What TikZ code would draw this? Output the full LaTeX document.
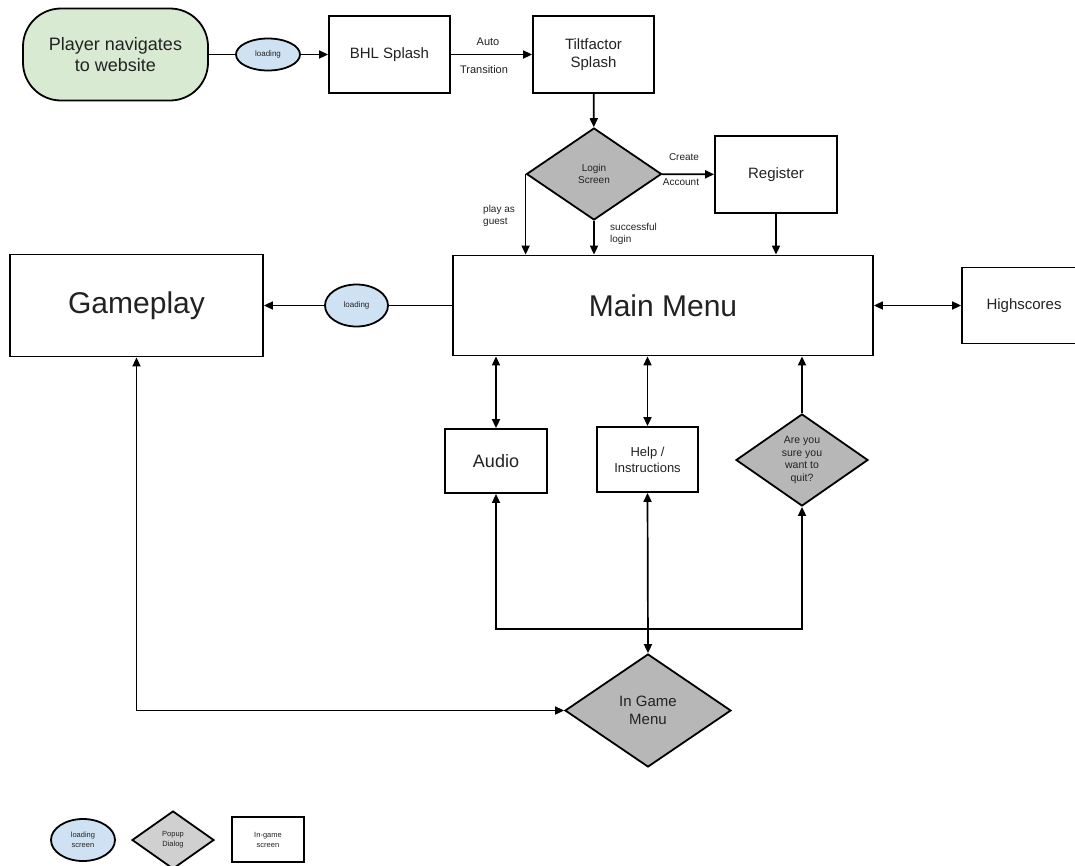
\documentclass[tikz,border=0pt]{standalone}
\usepackage{fontspec}
\setmainfont{Liberation Sans}
\usetikzlibrary{shapes.geometric,arrows.meta}
\definecolor{txt}{HTML}{222222}
\definecolor{greenfill}{HTML}{D9EAD3}
\definecolor{bluefill}{HTML}{CFE2F3}
\definecolor{grayfill}{HTML}{B7B7B7}
\definecolor{lightgray}{HTML}{D0D0D0}
\newcommand{\fs}[2]{\fontsize{#1}{#2}\selectfont}
\tikzset{
  base/.style={draw=black, line width=1.8pt, text=txt, align=center, inner sep=0pt},
  screen/.style={base, rectangle, fill=white},
  loadell/.style={base, ellipse, fill=bluefill, font=\fs{8}{10}},
  popup/.style={base, diamond, fill=grayfill},
  conn/.style={line width=1.7pt, draw=black},
  arr/.style={conn, -{Triangle[length=9pt,width=8pt]}},
  darr/.style={conn, {Triangle[length=9pt,width=8pt]}-{Triangle[length=9pt,width=8pt]}},
  lbl/.style={text=txt, align=left, inner sep=0pt}
}
\begin{document}
\begin{tikzpicture}[x=1pt,y=1pt]
\useasboundingbox (0,0) rectangle (1075,-865);
\fill[white] (0,0) rectangle (1075,-865);

% top row
\node[base, fill=greenfill, rounded corners=38pt, minimum width=185pt, minimum height=92pt, font=\fs{18}{21.5}] (player) at (115.5,-54.5) {Player navigates\\to website};
\node[loadell, minimum width=64pt, minimum height=32pt] (load1) at (268,-54.5) {loading};
\node[screen, minimum width=121pt, minimum height=77pt, font=\fs{15}{18}] (bhl) at (389.5,-54.5) {BHL Splash};
\node[screen, minimum width=121pt, minimum height=77pt, font=\fs{15}{18}] (tilt) at (593.5,-54.5) {Tiltfactor\\Splash};

% login row
\node[popup, minimum width=135pt, minimum height=92pt, font=\fs{10}{12.6}] (login) at (594,-174) {Login\\Screen};
\node[screen, minimum width=122pt, minimum height=77pt, font=\fs{15}{18}] (register) at (776,-174.5) {Register};

% main row
\node[screen, minimum width=420pt, minimum height=100pt, font=\fs{30}{36}] (main) at (663,-305.5) {Main Menu};
\node[screen, minimum width=124pt, minimum height=76pt, font=\fs{15}{18}] (high) at (1024,-305.5) {Highscores};
\node[screen, minimum width=253pt, minimum height=102pt, font=\fs{30}{36}] (game) at (136.5,-305.5) {Gameplay};
\node[loadell, minimum width=63pt, minimum height=42pt] (load2) at (356.5,-305.5) {loading};

% sub row
\node[screen, minimum width=102pt, minimum height=64pt, font=\fs{18}{21}] (audio) at (496,-461) {Audio};
\node[screen, minimum width=101pt, minimum height=65pt, font=\fs{13}{15.7}] (help) at (647.5,-459.5) {Help /\\Instructions};
\node[popup, minimum width=132pt, minimum height=92pt, font=\fs{10.5}{12.7}] (quit) at (802,-460) {Are you\\sure you\\want to\\quit?};

\node[popup, minimum width=166pt, minimum height=113pt, font=\fs{15}{18.3}] (ingame) at (648,-710.5) {In Game\\Menu};

% legend
\node[loadell, minimum width=64pt, minimum height=42pt, font=\fs{7.5}{10}] (lell) at (83,-840) {loading\\screen};
\node[base, diamond, fill=lightgray, minimum width=82pt, minimum height=58pt, font=\fs{7.5}{10}] (ldia) at (173,-840) {Popup\\Dialog};
\node[screen, minimum width=72pt, minimum height=45pt, font=\fs{7.5}{10}] (lrect) at (268,-839.5) {In-game\\screen};

% connectors
\draw[conn] (player) -- (load1);
\draw[arr] (load1) -- (bhl);
\draw[arr] (bhl) -- (tilt);
\node[lbl, font=\fs{11}{13}] (lauto) at (488,-42) {Auto};
\node[lbl, font=\fs{11}{13}] (ltrans) at (484,-70) {Transition};
\draw[arr] (tilt) -- (login);
\draw[arr] (login) -- (register);
\node[lbl, font=\fs{10}{12}] (lcreate) at (684,-157) {Create};
\node[lbl, font=\fs{10}{12}] (lacc) at (681,-182) {Account};
\draw[arr] (login.west) -- (login.west |- main.north);
\draw[arr] (login.south) -- (login.south |- main.north);
\draw[arr] (register.south) -- (register.south |- main.north);
\node[lbl, anchor=west, font=\fs{10}{12}] (lguest) at (483,-216) {play as\\guest};
\node[lbl, anchor=west, font=\fs{10}{12}] (lsucc) at (610,-234) {successful\\login};

\draw[darr] (main) -- (high);
\draw[conn] (main) -- (load2);
\draw[arr] (load2) -- (game);

\draw[darr] (audio.north) -- (audio.north |- main.south);
\draw[darr] (help.north) -- (help.north |- main.south);
\draw[arr] (quit.north) -- (quit.north |- main.south);

\coordinate (bl) at (496,-629);
\coordinate (br) at (802,-629);
\draw[darr] (audio.south) -- (bl) -- (br) -- (quit.south);
\draw[darr] (help.south) -- (ingame.north);
\draw[darr] (game.south) |- (ingame.west);
\end{tikzpicture}
\end{document}
